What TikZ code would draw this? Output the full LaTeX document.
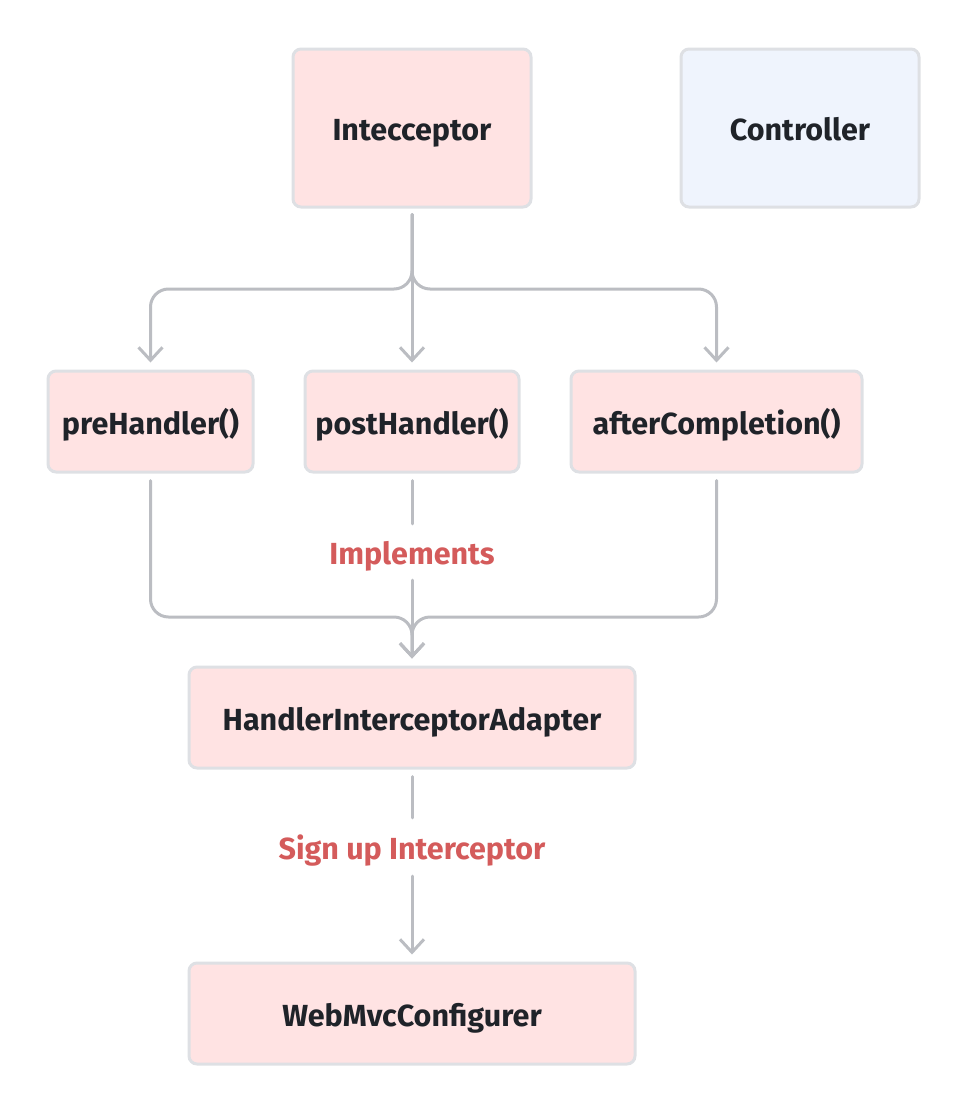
\documentclass[tikz,border=0pt]{standalone}
\usepackage{fontspec}
\setmainfont{Fira Sans}
\usetikzlibrary{arrows.meta}
\definecolor{boxpink}{HTML}{FFE3E3}
\definecolor{boxblue}{HTML}{EFF4FD}
\definecolor{boxline}{HTML}{DEE0E4}
\definecolor{linkgray}{HTML}{BBBDC2}
\definecolor{labelred}{HTML}{D45B5B}
\definecolor{textdark}{HTML}{1F2329}

\begin{document}
\begin{tikzpicture}[x=1pt,y=-1pt]
\tikzstyle{every node}+=[font=\bfseries\fontsize{30.5}{34}\selectfont,text=textdark,text height=27pt,text depth=2pt]
\tikzstyle{box}=[draw=boxline,line width=3pt,fill=boxpink,rounded corners=8pt,inner sep=0pt]
\tikzstyle{link}=[draw=linkgray,line width=3pt,rounded corners=18pt,line cap=round]
\tikzstyle{tip}=[-{Straight Barb[length=13pt,width=24pt]}]
\tikzstyle{tag}=[text=labelred,inner sep=0pt]
\useasboundingbox (0,0) rectangle (968,1114);
\node [box,minimum width=238pt,minimum height=158pt] (int) at (412,128) {Intecceptor};
\node [box,fill=boxblue,minimum width=238pt,minimum height=158pt] (ctrl) at (800,128) {Controller};
\node [box,minimum width=205pt,minimum height=101pt] (pre) at (150.5,421.5) {preHandler()};
\node [box,minimum width=214pt,minimum height=101pt] (post) at (412,421.5) {postHandler()};
\node [box,minimum width=291pt,minimum height=101pt] (after) at (716.5,421.5) {afterCompletion()};
\node [tag,minimum height=56pt] (impl) at (412,552) {Implements};
\node [box,minimum width=446pt,minimum height=101pt] (adp) at (412,717.5) {HandlerInterceptorAdapter};
\node [tag,minimum height=58pt] (sign) at (412,847) {Sign up Interceptor};
\node [box,minimum width=446pt,minimum height=101pt] (web) at (412,1013.5) {WebMvcConfigurer};
\coordinate (fork) at (412,289);
\coordinate (join) at (412,617);
% fork out of the interceptor
\draw [link,tip,shorten <=6pt,shorten >=7pt] (int.south) -- (fork) -| (pre.north);
\draw [link,tip,shorten <=6pt,shorten >=7pt] (int.south) -- (post.north);
\draw [link,tip,shorten <=6pt,shorten >=7pt] (int.south) -- (fork) -| (after.north);
% methods into the adapter
\draw [link,tip,shorten <=7pt,shorten >=7pt] (pre.south) |- (join) -- (adp.north);
\draw [link,tip,shorten <=7pt,shorten >=7pt] (after.south) |- (join) -- (adp.north);
\draw [link,shorten <=7pt] (post.south) -- (impl.north);
\draw [link,tip,shorten >=7pt] (impl.south) -- (adp.north);
\draw [link,shorten <=7pt] (adp.south) -- (sign.north);
\draw [link,tip,shorten >=7pt] (sign.south) -- (web.north);
\end{tikzpicture}
\end{document}
